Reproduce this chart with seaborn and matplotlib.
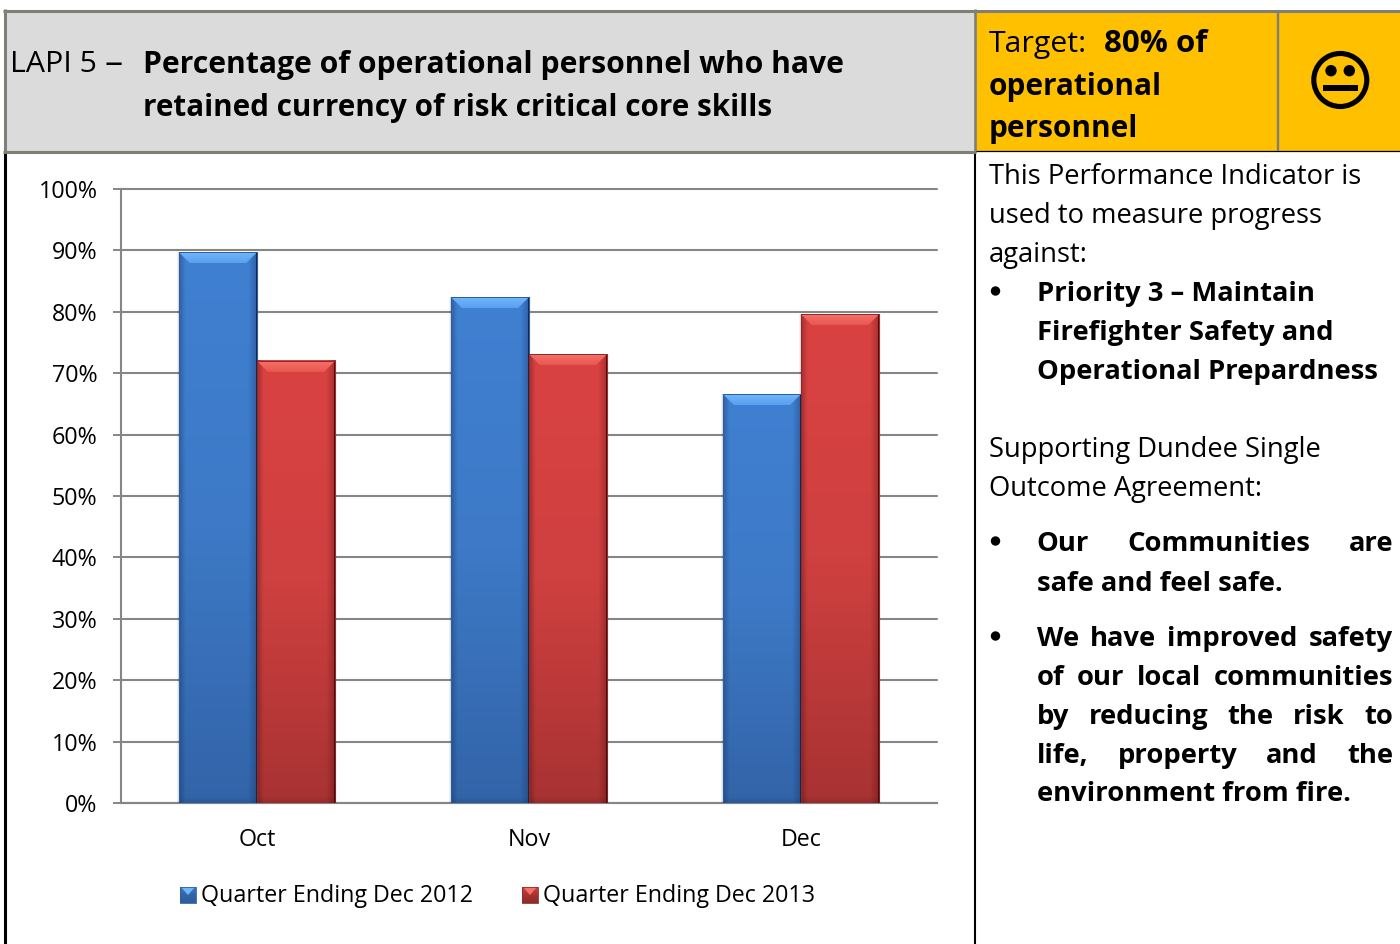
import numpy as np
import pandas as pd
import seaborn as sns
import matplotlib
matplotlib.use("Agg")
import matplotlib.pyplot as plt
from matplotlib.colors import LinearSegmentedColormap
from matplotlib.patches import Circle, Polygon, Rectangle
from matplotlib.ticker import FuncFormatter

months = ["Oct", "Nov", "Dec"]
series_names = ["Quarter Ending Dec 2012", "Quarter Ending Dec 2013"]
values_2012 = [89.7, 82.4, 66.6]
values_2013 = [72.0, 73.1, 79.6]

FONT = "Open Sans"
sns.set_theme(style="white")
plt.rcParams["font.family"] = [FONT, "DejaVu Sans"]

W, H = 1400, 944
fig = plt.figure(figsize=(W / 100, H / 100), dpi=100, facecolor="white")

# Page layer in pixel coordinates: table cells, rules and commentary
page = fig.add_axes([0, 0, 1, 1], zorder=0)
page.set_xlim(0, W)
page.set_ylim(H, 0)
page.axis("off")

GREY_RULE = "#7f7f75"
page.add_patch(Rectangle((4, 11), 971, 140, fc="#dbdbdb", ec="none"))
page.add_patch(Rectangle((975, 11), 425, 139.5, fc="#ffc000", ec="none"))
page.plot([4.5, 4.5], [152, H], color="black", lw=2.2, solid_capstyle="butt")
page.plot([975, 975], [151, H], color="black", lw=1.5, solid_capstyle="butt")
page.plot([3, 1400], [10.5, 10.5], color=GREY_RULE, lw=2.2, solid_capstyle="butt")
page.plot([3, 975], [151.5, 151.5], color=GREY_RULE, lw=2.2, solid_capstyle="butt")
page.plot([4.5, 4.5], [9, 153], color=GREY_RULE, lw=2.2, solid_capstyle="butt")
page.plot([974.7, 974.7], [9, 153], color=GREY_RULE, lw=1.9, solid_capstyle="butt")
page.plot([976, 1400], [150.5, 150.5], color="black", lw=0.9, solid_capstyle="butt")
page.plot([1277.5, 1277.5], [12, 151], color=GREY_RULE, lw=1.7, solid_capstyle="butt")


def put(x, y, s, size, bold=False):
    return page.text(x, y, s, fontsize=size, va="baseline", ha="left", color="black",
                     fontweight="bold" if bold else "normal")


def justified(left, right, y, line, size, bold=True):
    """Set one line with its words spread evenly from left to right."""
    words = line.split()
    items = [put(left, y, w, size, bold) for w in words]
    renderer = fig.canvas.get_renderer()
    widths = [t.get_window_extent(renderer).width for t in items]
    gap = (right - left - sum(widths)) / (len(words) - 1)
    x = left
    for t, w in zip(items, widths):
        t.set_x(x)
        x += w + gap


TITLE = 21.4
BODY = 19.7
AXIS_TEXT = 16.75

put(10, 72, "LAPI 5", 21.8)
put(105, 74, "–", 26)
put(143, 73, "Percentage of operational personnel who have", 21.7, True)
put(143, 116, "retained currency of risk critical core skills", 21.3, True)

put(989, 52, "Target:", 21.8)
put(1104, 52, "80% of", 22.4, True)
put(989, 95, "operational", TITLE, True)
put(989, 137, "personnel", TITLE, True)

# Neutral face in the status cell
page.add_patch(Circle((1340.3, 80), 26.5, fc="none", ec="black", lw=3.7))
page.add_patch(Circle((1331, 70.7), 5.7, fc="black", ec="none"))
page.add_patch(Circle((1349.3, 70.7), 5.7, fc="black", ec="none"))
page.add_patch(Rectangle((1323.3, 85), 34.7, 5.7, fc="black", ec="none"))

put(989, 184, "This Performance Indicator is", BODY)
put(989, 223, "used to measure progress", BODY)
put(989, 262, "against:", BODY)
put(1037, 301, "Priority 3 – Maintain", BODY, True)
put(1037, 340, "Firefighter Safety and", BODY, True)
put(1037, 379, "Operational Prepardness", BODY, True)
put(989, 457, "Supporting Dundee Single", BODY)
put(989, 496, "Outcome Agreement:", BODY)
justified(1036, 1393, 551, "Our Communities are", BODY)
put(1037, 591, "safe and feel safe.", BODY, True)
justified(1037, 1393, 646, "We have improved safety", BODY)
justified(1037, 1393, 685, "of our local communities", BODY)
justified(1037, 1393, 724, "by reducing the risk to", BODY)
justified(1037, 1393, 763, "life, property and the", BODY)
put(1037, 801, "environment from fire.", BODY, True)
for by in (291, 541, 636):
    page.add_patch(Circle((995.5, by), 4.7, fc="black", ec="none"))

# Chart layer
left, right, top, bottom = 121, 937, 189, 803
ax = fig.add_axes([left / W, 1 - bottom / H, (right - left) / W, (bottom - top) / H],
                  zorder=1, facecolor="none")

df = pd.DataFrame({
    "Month": months * 2,
    "Quarter": [series_names[0]] * 3 + [series_names[1]] * 3,
    "Value": values_2012 + values_2013,
})
palette = {series_names[0]: "#3f7cc9", series_names[1]: "#d63c3c"}
sns.barplot(data=df, x="Month", y="Value", hue="Quarter", hue_order=series_names,
            palette=palette, width=0.574, gap=0, saturation=1, ax=ax, legend=False,
            linewidth=0, zorder=3)

ax.set_xlim(-0.5, 2.5)
ax.set_ylim(0, 100)
ax.set_xlabel("")
ax.set_ylabel("")
ax.yaxis.set_major_formatter(FuncFormatter(lambda v, _: f"{v:.0f}%"))
ax.set_yticks(np.arange(0, 101, 10))
ax.set_xticks([-0.5, 0.5, 1.5, 2.5], minor=True)
ax.tick_params(axis="x", which="major", length=0, pad=18, labelsize=AXIS_TEXT, labelcolor="black")
ax.tick_params(axis="x", which="minor", length=6, width=1.4, color="#868686", direction="out")
ax.tick_params(axis="y", length=6, width=1.4, color="#868686", pad=11,
               labelsize=AXIS_TEXT, labelcolor="black", left=True)
ax.grid(axis="y", color="#868686", lw=1.5, zorder=0)
for gridline in ax.get_ygridlines():
    gridline.set_clip_on(False)
ax.set_axisbelow(True)
for side in ("top", "right"):
    ax.spines[side].set_visible(False)
for side in ("left", "bottom"):
    ax.spines[side].set_visible(True)
    ax.spines[side].set_color("#868686")
    ax.spines[side].set_linewidth(1.5)
    ax.spines[side].set_zorder(2)

BAR_STYLES = [
    {"ramp": ["#4080d2", "#3d79c6", "#3264a8"], "bevel": ["#70b6fc", "#5aa0ee"],
     "left": "#2d5f9c", "right": "#12294d", "shade": (0.05, 0.13, 0.28)},
    {"ramp": ["#da4242", "#cf4040", "#a83232"], "bevel": ["#f67068", "#e85852"],
     "left": "#8f2a2a", "right": "#4a0e0e", "shade": (0.25, 0.03, 0.03)},
]
bars_per_series = len(months)
bevel_x, bevel_y = 11 / 272, 11 / 6.14
edge_x = 1.2 / 272


def bevelled_bar(bar, style):
    """Shade a bar with a vertical ramp, soft dark sides and a bright top bevel."""
    x0, x1 = bar.get_x(), bar.get_x() + bar.get_width()
    h = bar.get_height()
    bar.set_alpha(0)

    # faint shadow just outside the bar
    for i, a in enumerate((0.10, 0.05)):
        pad = 0.004 * (i + 1)
        ax.add_patch(Rectangle((x0 - pad, 0), x1 - x0 + 2 * pad, h, fc="black", ec="none",
                               alpha=a, zorder=2.5))

    # vertical colour ramp
    cmap = LinearSegmentedColormap.from_list("ramp", style["ramp"])
    ax.imshow(np.linspace(0, 1, 256).reshape(-1, 1), cmap=cmap, aspect="auto", origin="upper",
              extent=(x0, x1, 0, h), zorder=3, interpolation="bilinear")

    # darkening towards both sides and the foot of the bar
    columns = np.arange(78)
    across = np.maximum(0.32 * np.clip(1 - columns / 6, 0, 1),
                        0.34 * np.clip(1 - (77 - columns) / 9, 0, 1))
    rows = np.arange(int(h * 6.14))
    foot = 0.16 * np.clip(1 - (rows.max() - rows) / 6, 0, 1)
    alpha = 1 - np.outer(1 - foot, 1 - across)
    shade = np.dstack([np.full(alpha.shape, c) for c in style["shade"]] + [alpha])
    ax.imshow(shade, aspect="auto", origin="upper", extent=(x0, x1, 0, h), zorder=3.1,
              interpolation="bilinear")

    # top bevel as a trapezoid with its own ramp
    bevel_cmap = LinearSegmentedColormap.from_list("bevel", style["bevel"])
    image = ax.imshow(np.linspace(0, 1, 32).reshape(-1, 1), cmap=bevel_cmap, aspect="auto",
                      origin="upper", extent=(x0, x1, h - bevel_y, h), zorder=3.2,
                      interpolation="bilinear")
    trapezoid = Polygon([(x0, h), (x1, h), (x1 - bevel_x, h - bevel_y), (x0 + bevel_x, h - bevel_y)],
                        transform=ax.transData, fc="none", ec="none")
    ax.add_patch(trapezoid)
    image.set_clip_path(trapezoid)

    # crisp edges: a dark right side, a softer left side and top
    ax.add_patch(Rectangle((x0, 0), edge_x, h, fc=style["left"], ec="none", zorder=3.3))
    ax.add_patch(Rectangle((x1 - edge_x, 0), edge_x, h, fc=style["right"], ec="none", zorder=3.3))
    ax.add_patch(Rectangle((x0, h - 0.15), x1 - x0, 0.15, fc=style["left"], ec="none", zorder=3.3))


for i, bar in enumerate(list(ax.patches)[:2 * bars_per_series]):
    bevelled_bar(bar, BAR_STYLES[i // bars_per_series])
ax.set_xlim(-0.5, 2.5)
ax.set_ylim(0, 100)

# Legend keys and labels sit on the page layer
for key_x, label_x, name, style in ((180, 201, series_names[0], BAR_STYLES[0]),
                                    (522, 543, series_names[1], BAR_STYLES[1])):
    cmap = LinearSegmentedColormap.from_list("key", [style["ramp"][1], style["ramp"][2], style["left"]])
    page.imshow(np.linspace(0, 1, 32).reshape(-1, 1), cmap=cmap, aspect="auto",
                extent=(key_x, key_x + 16, 903, 887), zorder=2)
    page.add_patch(Polygon([(key_x + 1, 887), (key_x + 15, 887), (key_x + 8, 895)],
                           fc=style["bevel"][0], ec="none", zorder=3))
    page.add_patch(Rectangle((key_x, 887), 16, 16, fc="none", ec=style["left"], lw=0.6, zorder=3))
    put(label_x, 902, name, AXIS_TEXT)
page.set_xlim(0, W)
page.set_ylim(H, 0)

fig.savefig("out.png", dpi=100)
